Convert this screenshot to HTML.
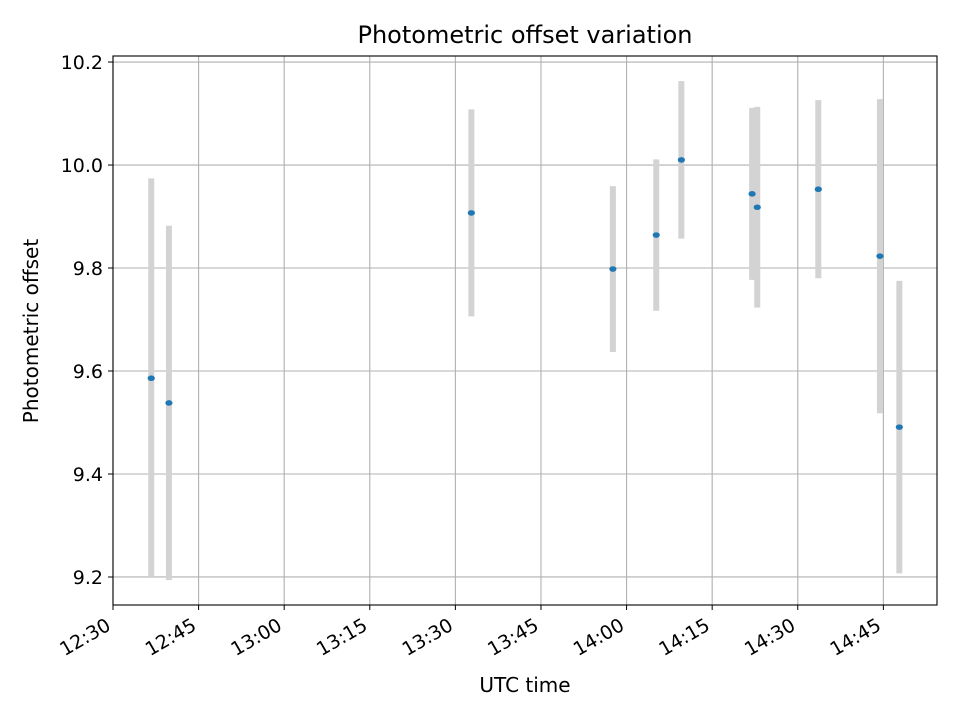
<!DOCTYPE html>
<html><head><meta charset="utf-8"><style>
html,body{margin:0;padding:0;background:#fff;}
svg text{font-family:"DejaVu Sans","Liberation Sans",sans-serif;fill:#000;}
</style></head><body>
<svg id="chart" width="960" height="720" viewBox="0 0 960 720" xmlns="http://www.w3.org/2000/svg">
<rect width="960" height="720" fill="#fff"/>
<g id="grid"></g><g id="bars"></g><g id="pts"></g><g id="axes"></g>
<text x="525" y="43" font-size="24" text-anchor="middle">Photometric offset variation</text>
<text x="525" y="692" font-size="20" text-anchor="middle">UTC time</text>
<text x="38" y="331" font-size="20" text-anchor="middle" transform="rotate(-90 38 331)">Photometric offset</text>
</svg>
<script>
// minutes after 12:30 UTC
const times = [6.7, 9.8, 62.8, 87.6, 95.2, 99.6, 112.0, 112.9, 123.6, 134.4, 137.8];
const offsets = [9.586, 9.538, 9.907, 9.798, 9.864, 10.010, 9.944, 9.918, 9.953, 9.823, 9.491];
const errors = [0.388, 0.344, 0.201, 0.161, 0.147, 0.153, 0.167, 0.195, 0.173, 0.305, 0.284];
const xTickLabels = ["12:30","12:45","13:00","13:15","13:30","13:45","14:00","14:15","14:30","14:45"];
const yTickLabels = ["9.2","9.4","9.6","9.8","10.0","10.2"];

const L=113,R=937,T=56,B=605;
const xMin=0,xMax=144.4,yMin=9.1456,yMax=10.2117;
const xs=v=>L+(v-xMin)/(xMax-xMin)*(R-L);
const ys=v=>B-(v-yMin)/(yMax-yMin)*(B-T);
const NS="http://www.w3.org/2000/svg";
function mk(tag,attrs,parent){const e=document.createElementNS(NS,tag);for(const k in attrs)e.setAttribute(k,attrs[k]);document.getElementById(parent).appendChild(e);return e;}

xTickLabels.forEach((lab,i)=>{
  const x=xs(i*15);
  const g=mk('line',{x1:x,x2:x,y1:T,y2:B,stroke:'#b0b0b0','stroke-width':1.1},'grid');
  
  
  const t=mk('line',{x1:x,x2:x,y1:B,y2:B+5,stroke:'#000','stroke-width':1},'axes');
  
  
  const ax=x-1, ay=B+24;
  const tx=mk('text',{x:ax,y:ay,'font-size':19,'text-anchor':'end',transform:`rotate(-30 ${ax} ${ay})`},'axes');
  tx.textContent=lab;
  
  
});
yTickLabels.forEach(lab=>{
  const y=ys(parseFloat(lab));
  const g=mk('line',{x1:L,x2:R,y1:y,y2:y,stroke:'#b0b0b0','stroke-width':1.1},'grid');
  
  
  const t=mk('line',{x1:L-5,x2:L,y1:y,y2:y,stroke:'#000','stroke-width':1},'axes');
  
  
  const tx=mk('text',{x:L-10,y:y+7,'font-size':19,'text-anchor':'end'},'axes');
  tx.textContent=lab;
  
  
});
times.forEach((t,i)=>{
  const x=xs(t);
  const b=mk('line',{x1:x,x2:x,y1:ys(offsets[i]+errors[i]),y2:ys(offsets[i]-errors[i]),stroke:'#d3d3d3','stroke-width':6},'bars');
  
  
  const p=mk('ellipse',{cx:x,cy:ys(offsets[i]),rx:3.6,ry:2.8,fill:'#1f77b4'},'pts');
  
  
});
const f=mk('rect',{x:L,y:T,width:R-L,height:B-T,fill:'none',stroke:'#000','stroke-width':1.1},'axes');


</script>
</body></html>
